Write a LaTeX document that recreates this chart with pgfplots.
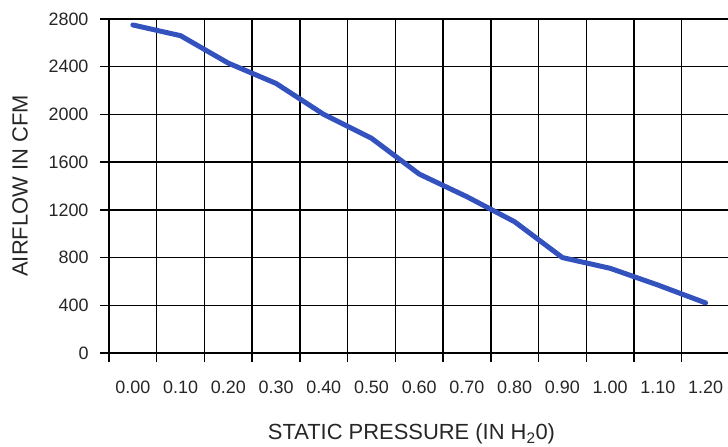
\documentclass[border=0pt]{standalone}
\usepackage{fontspec}
\setmainfont{Liberation Sans}
\usepackage{pgfplots}
\pgfplotsset{compat=1.18}
\definecolor{curve}{RGB}{52,82,190}

\begin{document}
\begin{tikzpicture}
\useasboundingbox (-109bp,-94bp) rectangle (619bp,353bp);
\begin{axis}[
  scale only axis,
  width=619bp, height=334bp,
  xmin=-0.5, xmax=12.47,
  ymin=0, ymax=2800,
  axis lines*=left,
  axis line style={-, line width=1.8bp},
  xtick={-0.5,0.5,...,12.5},
  xticklabels={},
  ytick={0,400,...,2800},
  grid=major,
  major grid style={black, line width=1.5bp},
  tick style={black, line width=1.5bp},
  tick align=outside,
  major tick length=9bp,
  extra x ticks={0,1,...,12},
  extra x tick labels={0.00,0.10,0.20,0.30,0.40,0.50,0.60,0.70,0.80,0.90,1.00,1.10,1.20},
  extra x tick style={major tick length=0pt, grid=none,
    xticklabel style={yshift=-24bp}},
  /pgf/number format/assume math mode=true,
  /pgf/number format/1000 sep={},
  ticklabel style={font=\fontsize{18}{20}\selectfont, text=black!85},
  yticklabel style={xshift=-8bp},
  label style={font=\fontsize{22}{25}\selectfont, text=black!85},
  xlabel={STATIC PRESSURE (IN H\textsubscript{2}0)},
  xlabel style={at={(axis description cs:0.4887,-0.243)}, anchor=center},
  ylabel={AIRFLOW IN CFM},
  ylabel style={at={(axis description cs:-0.1438,0.5)}, anchor=center},
]
\addplot[curve, line width=5bp, line join=round, line cap=round] coordinates {
  (0,2750) (1,2660) (2,2430) (3,2260) (4,2000) (5,1800) (6,1500)
  (7,1310) (8,1100) (9,800) (10,710) (11,570) (12,420)
};
\end{axis}
\end{tikzpicture}
\end{document}
